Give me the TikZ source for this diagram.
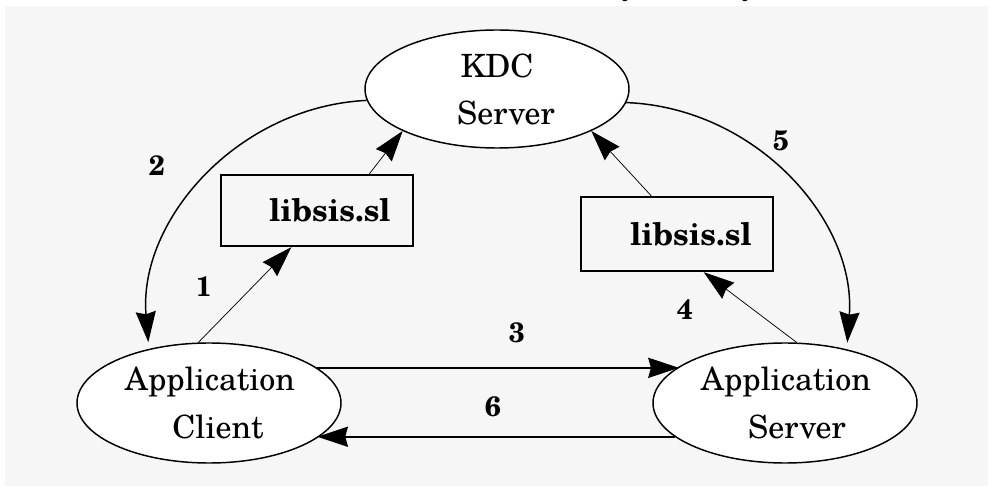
\documentclass[tikz,border=0pt]{standalone}
\usepackage{fontspec}
\setmainfont{texgyreschola-regular.otf}[BoldFont=texgyreschola-bold.otf, ItalicFont=texgyreschola-italic.otf]
\usetikzlibrary{shapes.geometric,arrows.meta}

\definecolor{paper}{HTML}{F6F6F6}

\begin{document}
\begin{tikzpicture}[x=0.75pt,y=0.75pt,
  host/.style={ellipse, draw, line width=1.1pt, fill=white, minimum width=198pt, minimum height=90pt, inner sep=0pt},
  libbox/.style={rectangle, draw, line width=1.8pt, minimum width=144pt, inner sep=0pt},
  hosttext/.style={font=\fontsize{24}{24}\selectfont, anchor=base, inner sep=0pt},
  libtext/.style={font=\fontsize{23.5}{23.5}\selectfont\bfseries, anchor=base west, inner sep=0pt},
  stepnum/.style={font=\fontsize{21}{21}\selectfont\bfseries, inner sep=0pt},
  head/.style={-{Stealth[length=23pt,width=15pt,inset=2pt]}},
  calllink/.style={head, line width=0.55pt},
  ticketarc/.style={head, line width=1.1pt},
  msglink/.style={head, line width=1.7pt}
]
\useasboundingbox (0,0) rectangle (993,-495);
\fill[paper] (5,-6) rectangle (988,-486);

% tails of the italic caption line above the frame
\begin{scope}
  \clip (0,0) rectangle (993,-6);
  \node[font=\fontsize{23}{23}\selectfont\itshape, anchor=base, inner sep=0pt] (capA) at (632,4) {y};
  \node[font=\fontsize{23}{23}\selectfont\itshape, anchor=base, inner sep=0pt] (capB) at (752,4) {y};
\end{scope}

% hosts
\node[host, minimum height=88.5pt] (kdc) at (497,-89) {};
\node[host] (client) at (209,-403) {};
\node[host] (server) at (785,-403) {};

\node[hosttext] (kdcA) at (497,-78) {KDC};
\node[hosttext] (kdcB) at (506,-125) {Server};
\node[hosttext] (cliA) at (210,-391) {Application};
\node[hosttext] (cliB) at (218,-438) {Client};
\node[hosttext] (srvA) at (786,-391) {Application};
\node[hosttext] (srvB) at (797,-438) {Server};

% libraries
\node[libbox, minimum height=53.25pt] (libL) at (317,-210.5) {};
\node[libbox, minimum height=55.5pt] (libR) at (677,-234) {};
\node[libtext] (libLt) at (269,-222) {libsis.sl};
\node[libtext] (libRt) at (630,-246) {libsis.sl};

% library calls
\draw[calllink] (client.100.4) -- (libL.235);
\draw[calllink] (libL.35) -- (kdc.204);
\draw[calllink] (server.79.6) -- (libR.305);
\draw[calllink] (libR.124) -- (kdc.336);

% tickets from the KDC
\draw[ticketarc, shorten >=5pt] (kdc.185.2) to[bend right=46] (client.138.3);
\draw[ticketarc, shorten >=5pt] (kdc.354.8) to[bend left=46] (server.41.7);

% client/server exchange, kept level
\draw[msglink] (client.18.8) -- (client.18.8 -| server.161.2);
\draw[msglink] (server.197.35) -- (server.197.35 -| client.342.65);

% step numbers
\node[stepnum] (n1) at (204,-287) {1};
\node[stepnum] (n2) at (157,-166) {2};
\node[stepnum] (n3) at (517,-333) {3};
\node[stepnum] (n4) at (685,-310) {4};
\node[stepnum] (n5) at (781,-141) {5};
\node[stepnum] (n6) at (493,-407) {6};
\end{tikzpicture}
\end{document}
